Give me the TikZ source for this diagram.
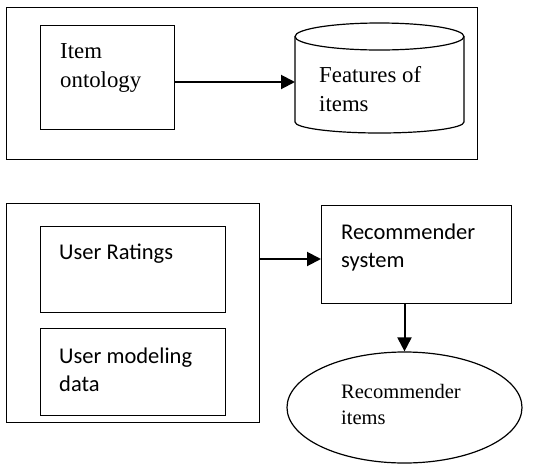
\documentclass[tikz,border=0pt]{standalone}
\usepackage{fontspec}
\setmainfont{Liberation Serif}
\newfontfamily\calibri{Carlito}
\usetikzlibrary{arrows.meta,shapes.geometric}
\begin{document}
\begin{tikzpicture}[x=1pt,y=-1pt,
  box/.style={draw,line width=1.2pt,inner sep=0pt,anchor=north west},
  lbl/.style={anchor=base west,inner sep=0pt,align=left},
  serif/.style={font=\fontsize{22.8}{28.5}\selectfont},
  sans/.style={font=\calibri\fontsize{22.5}{27.5}\selectfont},
  flow/.style={line width=2pt,-{Triangle[length=14pt,width=14pt]}}]
\useasboundingbox (0,0) rectangle (547,464);

% upper panel: ontology feeding the item feature store
% (multi-line labels are anchored on the baseline of their last line)
\node[box,minimum width=471pt,minimum height=152pt] (toppanel) at (6,7) {};
\node[box,minimum width=134pt,minimum height=104pt] (item) at (40,25) {};
\node[lbl,serif] (itemtxt) at (60,87) {Item\\ontology};

% feature store drawn as a cylinder
\draw[line width=1.2pt] (379.5,36.5) ellipse[x radius=84.5,y radius=13.5];
\draw[line width=1.2pt] (295,36.5) -- (295,122)
  arc[start angle=180,end angle=0,x radius=84.5,y radius=11] -- (464,36.5);
\coordinate (featL) at (295,82);
\node[lbl,serif] (feattxt) at (319,111) {Features of\\items};
\draw[flow] (item.east |- featL) -- (featL);

% lower panel: user data into the recommender
\node[box,minimum width=253pt,minimum height=219pt] (userpanel) at (6,203) {};
\node[box,minimum width=185pt,minimum height=86pt] (ratings) at (40,226) {};
\node[lbl,sans] (ratetxt) at (59,259) {User Ratings};
\node[box,minimum width=185pt,minimum height=87pt] (modeling) at (40,328) {};
\node[lbl,sans] (modtxt) at (59,391) {User modeling\\data};

\node[box,minimum width=190pt,minimum height=98pt] (recsys) at (321,205) {};
\node[lbl,sans] (rstxt) at (341,267) {Recommender\\system};

\node[draw,ellipse,line width=1.2pt,inner sep=0pt,minimum width=235pt,minimum height=111pt] (recitems) at (404.5,407.5) {};
\node[lbl,font=\fontsize{20.5}{26}\selectfont] (ritxt) at (341,424) {Recommender\\items};

\coordinate (a2) at (259,259);
\draw[flow] (userpanel.east |- a2) -- (recsys.west |- a2);
\draw[flow] (recsys.south -| recitems.north) -- (recitems.north);
\end{tikzpicture}
\end{document}
